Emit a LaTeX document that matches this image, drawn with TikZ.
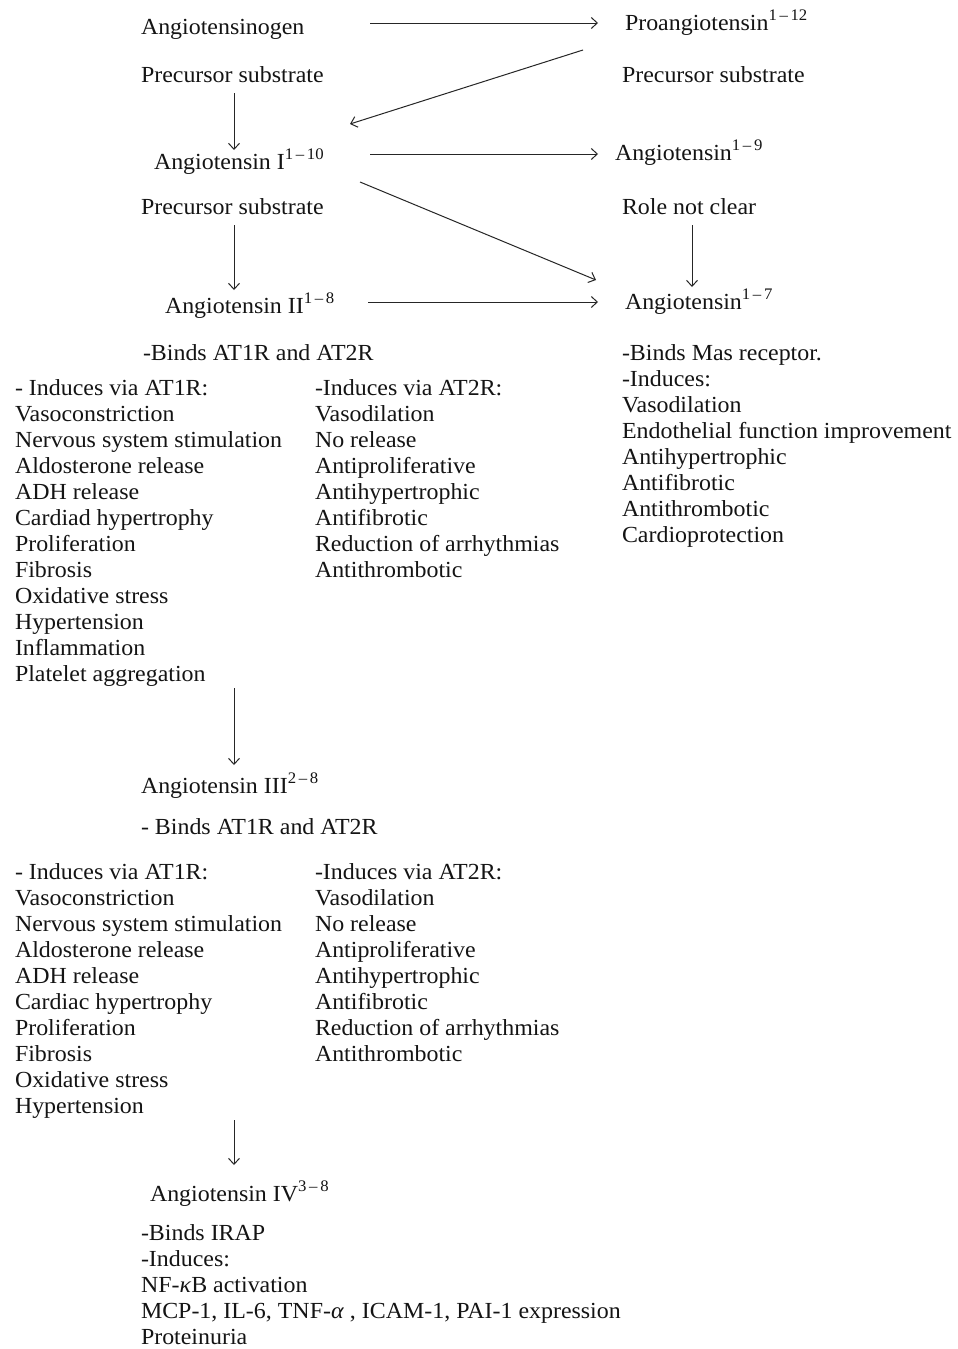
\documentclass[tikz,border=0pt]{standalone}
\usepackage{fontspec}
\setmainfont[FakeStretch=1.04]{Liberation Serif}
\usetikzlibrary{arrows.meta}
\begin{document}
\begin{tikzpicture}[x=1pt,y=-1pt,
  txt/.style={anchor=base west,inner sep=0pt,outer sep=0pt,text=black!92,
    font=\fontsize{23}{26}\selectfont},
  lst/.style={txt,align=left},
  arr/.style={-{Straight Barb[length=6pt,width=11pt]},line width=1pt,draw=black!85}]
\useasboundingbox[fill=white] (0,0) rectangle (958,1349);
% top rows
\node[txt] (ango) at (141,34) {Angiotensinogen};
\node[txt] (proang) at (625,30) {Proangiotensin\textsuperscript{1\,–\,12}};
\node[txt] (ps1) at (141,82) {Precursor substrate};
\node[txt] (ps2) at (622,82) {Precursor substrate};
\node[txt] (angI) at (154,169) {Angiotensin I\textsuperscript{1\,–\,10}};
\node[txt] (ang19) at (615,160) {Angiotensin\textsuperscript{1\,–\,9}};
\node[txt] (ps3) at (141,214) {Precursor substrate};
\node[txt] (rnc) at (622,214) {Role not clear};
\node[txt] (angII) at (165,313) {Angiotensin II\textsuperscript{1\,–\,8}};
\node[txt] (ang17) at (625,309) {Angiotensin\textsuperscript{1\,–\,7}};
\node[txt] (binds1) at (143,360) {-Binds AT1R and AT2R};
% multi-line lists: anchored at the baseline of their last line
\node[lst] (at1a) at (15,681) {- Induces via AT1R:\\Vasoconstriction\\Nervous system stimulation\\Aldosterone release\\ADH release\\Cardiad hypertrophy\\Proliferation\\Fibrosis\\Oxidative stress\\Hypertension\\Inflammation\\Platelet aggregation};
\node[lst] (at2a) at (315,577) {-Induces via AT2R:\\Vasodilation\\No release\\Antiproliferative\\Antihypertrophic\\Antifibrotic\\Reduction of arrhythmias\\Antithrombotic};
\node[lst] (mas) at (622,542) {-Binds Mas receptor.\\-Induces:\\Vasodilation\\Endothelial function improvement\\Antihypertrophic\\Antifibrotic\\Antithrombotic\\Cardioprotection};
% Angiotensin III
\node[txt] (angIII) at (141,793) {Angiotensin III\textsuperscript{2\,–\,8}};
\node[txt] (binds2) at (141,834) {- Binds AT1R and AT2R};
\node[lst] (at1b) at (15,1113) {- Induces via AT1R:\\Vasoconstriction\\Nervous system stimulation\\Aldosterone release\\ADH release\\Cardiac hypertrophy\\Proliferation\\Fibrosis\\Oxidative stress\\Hypertension};
\node[lst] (at2b) at (315,1061) {-Induces via AT2R:\\Vasodilation\\No release\\Antiproliferative\\Antihypertrophic\\Antifibrotic\\Reduction of arrhythmias\\Antithrombotic};
% Angiotensin IV
\node[txt] (angIV) at (150,1201) {Angiotensin IV\textsuperscript{3\,–\,8}};
\node[lst] (irap) at (141,1344) {-Binds IRAP\\-Induces:\\NF-\textit{κ}B activation\\MCP-1, IL-6, TNF-\textit{α} , ICAM-1, PAI-1 expression\\Proteinuria};
% connector end points
\coordinate (a1s) at (370,23);  \coordinate (a1e) at (598,23);
\coordinate (a2s) at (583,50);  \coordinate (a2e) at (350,124);
\coordinate (a3s) at (234,93);  \coordinate (a3e) at (234,150);
\coordinate (a4s) at (370,154); \coordinate (a4e) at (598,154);
\coordinate (a5s) at (360,182); \coordinate (a5e) at (596,280);
\coordinate (a6s) at (234,225); \coordinate (a6e) at (234,290);
\coordinate (a7s) at (692,225); \coordinate (a7e) at (692,287);
\coordinate (a8s) at (368,302); \coordinate (a8e) at (598,302);
\coordinate (a9s) at (234,688); \coordinate (a9e) at (234,765);
\coordinate (a10s) at (234,1120); \coordinate (a10e) at (234,1165);
\draw[arr] (a1s) -- (a1e);
\draw[arr] (a2s) -- (a2e);
\draw[arr] (a3s) -- (a3e);
\draw[arr] (a4s) -- (a4e);
\draw[arr] (a5s) -- (a5e);
\draw[arr] (a6s) -- (a6e);
\draw[arr] (a7s) -- (a7e);
\draw[arr] (a8s) -- (a8e);
\draw[arr] (a9s) -- (a9e);
\draw[arr] (a10s) -- (a10e);
\end{tikzpicture}
\end{document}
